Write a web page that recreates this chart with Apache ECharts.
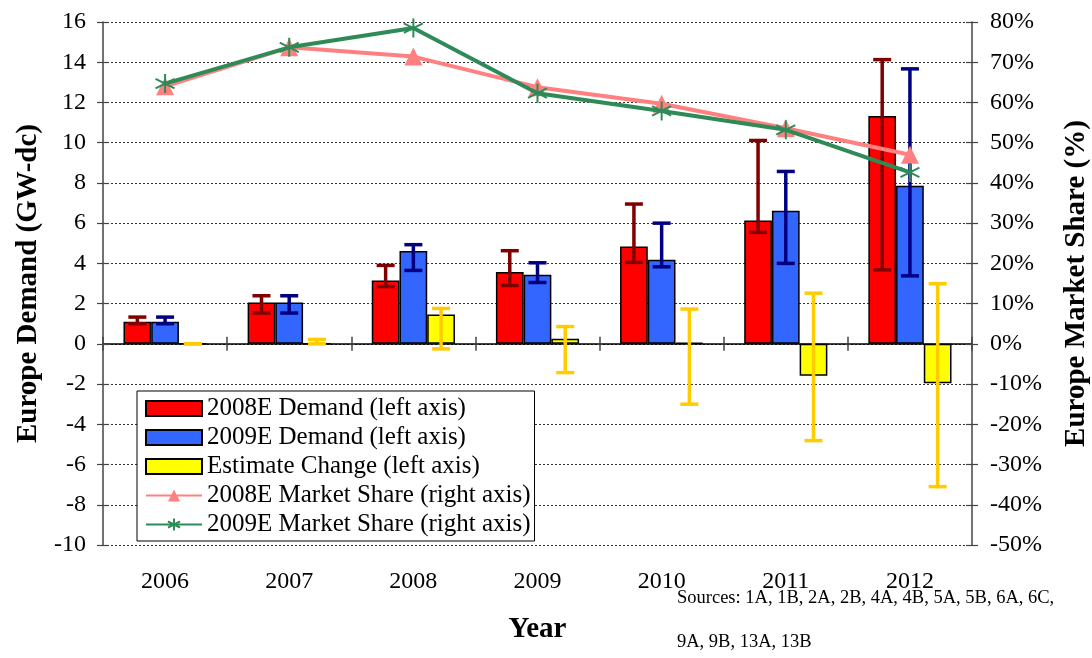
<!DOCTYPE html>
<html>
<head>
<meta charset="utf-8">
<title>Europe Demand</title>
<script src="https://cdn.jsdelivr.net/npm/echarts@6/dist/echarts.min.js"></script>
<style>
  html, body { margin: 0; padding: 0; background: #fff; }
  #chart { width: 1092px; height: 658px; }
</style>
</head>
<body>
<div id="chart"></div>
<script>
// Categories
const years = ['2006', '2007', '2008', '2009', '2010', '2011', '2012'];

// 2008E demand estimate (GW-dc) with low / high range
const demand2008 = [1.1, 2.05, 3.15, 3.57, 4.84, 6.13, 11.33];
const demand2008Low = [1.0, 1.53, 2.85, 2.9, 4.05, 5.54, 3.68];
const demand2008High = [1.33, 2.39, 3.9, 4.63, 6.95, 10.11, 14.13];

// 2009E demand estimate (GW-dc) with low / high range
const demand2009 = [1.1, 2.05, 4.62, 3.43, 4.18, 6.62, 7.86];
const demand2009Low = [1.0, 1.53, 3.65, 3.05, 3.83, 4.0, 3.38];
const demand2009High = [1.33, 2.39, 4.93, 4.03, 6.0, 8.57, 13.67];

// Change between the two estimates (GW-dc) with low / high range
const estimateChange = [0, 0, 1.46, 0.25, 0.05, -1.59, -1.96];
const changeLow = [0, 0, -0.25, -1.43, -3.0, -4.81, -7.1];
const changeHigh = [0, 0.22, 1.76, 0.86, 1.73, 2.52, 2.99];

// Europe market share (%)
const share2008 = [64.0, 73.7, 71.4, 63.8, 59.7, 53.6, 47.0];
const share2009 = [64.7, 73.7, 78.5, 62.3, 57.9, 53.2, 42.6];

// Axis tick settings
const leftAxis = { min: -10, max: 16, interval: 2 };
const rightAxis = { min: -50, max: 80, interval: 10 };

// Source note
const sourceLines = ['Sources: 1A, 1B, 2A, 2B, 4A, 4B, 5A, 5B, 6A, 6C,', '9A, 9B, 13A, 13B'];

const SERIF = '"Liberation Serif", "DejaVu Serif", serif';
const CAT_GAP = 0.33;

function rangeData(low, high) {
  return low.map((lo, i) => [i, lo, high[i]]);
}

// Draws a vertical range bar with caps, centred on bar "slot" (-1, 0, 1) of the group
function errorBar(slot, color) {
  return function (params, api) {
    const i = api.value(0);
    const lo = api.coord([i, api.value(1)]);
    const hi = api.coord([i, api.value(2)]);
    const band = api.size([1, 0])[0];
    const barW = band * (1 - CAT_GAP) / 3;
    const x = lo[0] + slot * barW;
    const cap = 9;
    const style = { stroke: color, lineWidth: 3.5, fill: null };
    return {
      type: 'group',
      children: [
        { type: 'line', shape: { x1: x, y1: lo[1], x2: x, y2: hi[1] }, style: style },
        { type: 'line', shape: { x1: x - cap, y1: hi[1], x2: x + cap, y2: hi[1] }, style: style },
        { type: 'line', shape: { x1: x - cap, y1: lo[1], x2: x + cap, y2: lo[1] }, style: style }
      ]
    };
  };
}

const ASTERISK = 'path://M10,0 L10,20 M1.34,5 L18.66,15 M1.34,15 L18.66,5';

const chart = echarts.init(document.getElementById('chart'), null, { renderer: 'canvas' });

const axisText = { fontSize: 24, color: '#000', fontFamily: SERIF };
const titleText = { fontSize: 29, fontWeight: 'bold', color: '#000', fontFamily: SERIF };

chart.setOption({
  animation: false,
  backgroundColor: '#fff',
  textStyle: { fontFamily: SERIF },
  grid: { left: 103, right: 120, top: 22, bottom: 113, containLabel: false, outerBoundsMode: 'none' },
  legend: {
    orient: 'vertical',
    left: 137,
    top: 391,
    itemWidth: 56,
    itemHeight: 15,
    itemGap: 4,
    backgroundColor: '#fff',
    borderColor: '#000',
    borderWidth: 1,
    padding: [5, 4, 4, 8],
    textStyle: { fontSize: 25, color: '#000', fontFamily: SERIF },
    data: [
      { name: '2008E Demand (left axis)', icon: 'rect' },
      { name: '2009E Demand (left axis)', icon: 'rect' },
      { name: 'Estimate Change (left axis)', icon: 'rect' },
      '2008E Market Share (right axis)',
      '2009E Market Share (right axis)'
    ]
  },
  xAxis: [
    {
      type: 'category',
      data: years,
      position: 'bottom',
      axisLine: { show: false, onZero: false },
      axisTick: { show: false },
      axisLabel: Object.assign({ margin: 25 }, axisText),
      name: 'Year',
      nameLocation: 'middle',
      nameGap: 70,
      nameTextStyle: titleText
    },
    {
      type: 'category',
      data: years,
      position: 'bottom',
      axisLine: { show: true, onZero: true, lineStyle: { color: '#000', width: 1.5 } },
      axisTick: { show: true, length: 7, lineStyle: { color: '#444', width: 1.5 } },
      axisLabel: { show: false }
    },
    {
      type: 'category',
      data: years,
      position: 'bottom',
      axisLine: { show: false, onZero: true },
      axisTick: { show: true, inside: true, length: 7, lineStyle: { color: '#444', width: 1.5 } },
      axisLabel: { show: false }
    }
  ],
  yAxis: [
    {
      type: 'value',
      position: 'left',
      min: leftAxis.min, max: leftAxis.max, interval: leftAxis.interval,
      axisLine: { show: true, lineStyle: { color: '#444', width: 1.5 } },
      axisTick: { show: true, length: 6, lineStyle: { color: '#444', width: 1.2 } },
      axisLabel: Object.assign({ margin: 17 }, axisText),
      splitLine: { show: true, lineStyle: { type: [2, 2], color: '#333', width: 1 } },
      name: 'Europe Demand (GW-dc)',
      nameLocation: 'middle',
      nameRotate: 90,
      nameGap: 58,
      nameTextStyle: titleText
    },
    {
      type: 'value',
      position: 'right',
      min: rightAxis.min, max: rightAxis.max, interval: rightAxis.interval,
      axisLine: { show: true, lineStyle: { color: '#444', width: 1.5 } },
      axisTick: { show: true, length: 6, lineStyle: { color: '#444', width: 1.2 } },
      axisLabel: Object.assign({ margin: 18, formatter: '{value}%' }, axisText),
      splitLine: { show: false },
      name: 'Europe Market Share (%)',
      nameLocation: 'middle',
      nameRotate: 90,
      nameGap: 90,
      nameTextStyle: titleText
    },
    {
      type: 'value',
      position: 'left',
      min: leftAxis.min, max: leftAxis.max, interval: leftAxis.interval,
      axisLine: { show: false },
      axisTick: { show: true, inside: true, length: 6, lineStyle: { color: '#444', width: 1.2 } },
      axisLabel: { show: false },
      splitLine: { show: false }
    },
    {
      type: 'value',
      position: 'right',
      min: rightAxis.min, max: rightAxis.max, interval: rightAxis.interval,
      axisLine: { show: false },
      axisTick: { show: true, inside: true, length: 6, lineStyle: { color: '#444', width: 1.2 } },
      axisLabel: { show: false },
      splitLine: { show: false }
    }
  ],
  series: [
    {
      name: '2008E Demand (left axis)',
      type: 'bar',
      xAxisIndex: 0, yAxisIndex: 0,
      data: demand2008,
      barGap: '0%',
      barCategoryGap: (CAT_GAP * 100) + '%',
      itemStyle: { color: '#FF0000', borderColor: '#000', borderWidth: 1.5 },
      z: 2
    },
    {
      name: '2009E Demand (left axis)',
      type: 'bar',
      xAxisIndex: 0, yAxisIndex: 0,
      data: demand2009,
      barGap: '0%',
      barCategoryGap: (CAT_GAP * 100) + '%',
      itemStyle: { color: '#3366FF', borderColor: '#000', borderWidth: 1.5 },
      z: 2
    },
    {
      name: 'Estimate Change (left axis)',
      type: 'bar',
      xAxisIndex: 0, yAxisIndex: 0,
      data: estimateChange,
      barGap: '0%',
      barCategoryGap: (CAT_GAP * 100) + '%',
      itemStyle: { color: '#FFFF00', borderColor: '#000', borderWidth: 1.5 },
      z: 2
    },
    {
      name: '2008E range',
      type: 'custom',
      xAxisIndex: 0, yAxisIndex: 0,
      data: rangeData(demand2008Low, demand2008High),
      encode: { x: 0, y: [1, 2] },
      renderItem: errorBar(-1, '#800000'),
      z: 3
    },
    {
      name: '2009E range',
      type: 'custom',
      xAxisIndex: 0, yAxisIndex: 0,
      data: rangeData(demand2009Low, demand2009High),
      encode: { x: 0, y: [1, 2] },
      renderItem: errorBar(0, '#000080'),
      z: 3
    },
    {
      name: 'Change range',
      type: 'custom',
      xAxisIndex: 0, yAxisIndex: 0,
      data: rangeData(changeLow, changeHigh),
      encode: { x: 0, y: [1, 2] },
      renderItem: errorBar(1, '#FFCC00'),
      z: 3
    },
    {
      name: '2008E Market Share (right axis)',
      type: 'line',
      xAxisIndex: 0, yAxisIndex: 1,
      data: share2008,
      color: '#FF8080',
      lineStyle: { color: '#FF8080', width: 4 },
      symbol: 'triangle',
      symbolSize: 18,
      itemStyle: { color: '#FF8080', borderColor: '#FF8080', borderWidth: 0 },
      z: 4
    },
    {
      name: '2009E Market Share (right axis)',
      type: 'line',
      xAxisIndex: 0, yAxisIndex: 1,
      data: share2009,
      color: '#2E8B57',
      lineStyle: { color: '#2E8B57', width: 4 },
      symbol: ASTERISK,
      symbolSize: 19,
      itemStyle: { color: '#2E8B57', borderColor: '#2E8B57', borderWidth: 2 },
      z: 5
    }
  ],
  graphic: sourceLines.map((line, k) => ({
    type: 'text',
    left: 677,
    top: 589 + k * 44,
    style: { text: line, font: '18.5px ' + SERIF, fill: '#000' }
  }))
});
</script>
</body>
</html>
